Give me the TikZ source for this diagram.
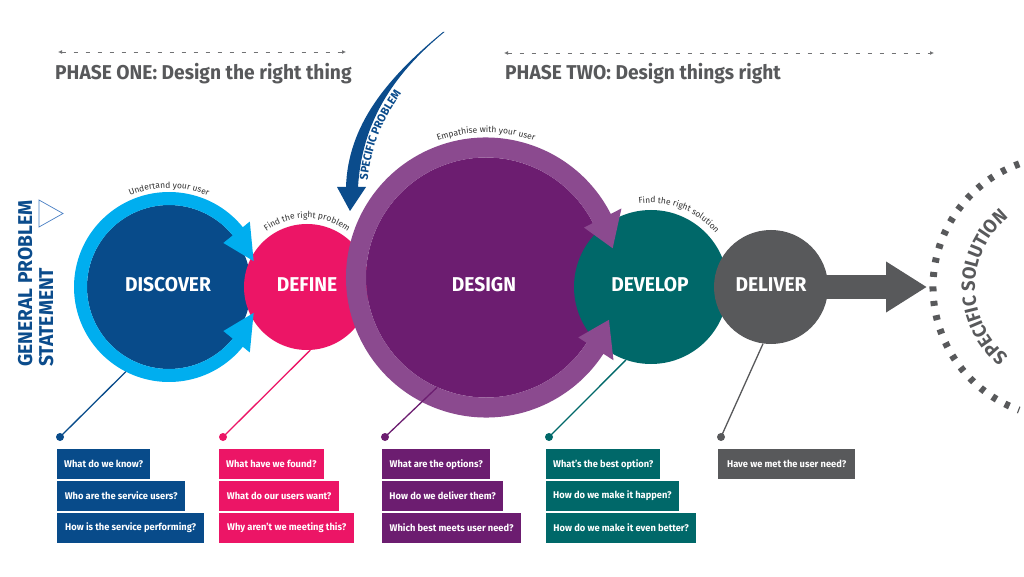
\documentclass[tikz,border=0pt]{standalone}
\usepackage{fontspec}
\setmainfont{Fira Sans}
\newfontfamily\dinfont{Fira Sans}[FakeStretch=0.96]
\usetikzlibrary{positioning,arrows.meta,decorations.text}

\definecolor{discblue}{RGB}{8,75,138}
\definecolor{ringblue}{RGB}{0,174,239}
\definecolor{defpink}{RGB}{236,21,102}
\definecolor{despurple}{RGB}{108,29,112}
\definecolor{ringpurple}{RGB}{139,74,143}
\definecolor{devteal}{RGB}{0,104,105}
\definecolor{delgray}{RGB}{88,89,91}
\definecolor{probblue}{RGB}{11,76,140}
\definecolor{triblue}{RGB}{70,125,195}

\tikzset{
	disc/.style={circle, inner sep=0pt, minimum size=#1},
	stage/.style={anchor=base, text=white, font=\dinfont\bfseries\fontsize{20}{20}\selectfont},
	phase/.style={anchor=base west, inner sep=0pt, text=delgray, font=\dinfont\bfseries\fontsize{20}{20}\selectfont},
	phaseline/.style={delgray!85, line width=0.8pt, dash pattern=on 4pt off 8pt, {Latex[length=4pt,width=4pt]}-{Latex[length=4pt,width=4pt]}},
	side/.style={anchor=base west, rotate=90, inner sep=0pt, text=probblue, font=\dinfont\bfseries\fontsize{20}{20}\selectfont},
	arclabel/.style={decorate, decoration={text along path, text align=center, text color=black!80, text={|\fontsize{8.5}{9}\selectfont|#1}}},
	dot/.style={circle, inner sep=0pt, minimum size=8pt, fill=#1},
	callout/.style={#1, line width=1.3pt},
	qbox/.style={anchor=north west, minimum height=30pt, inner xsep=7pt, inner ysep=0pt, text=white, font=\dinfont\bfseries\fontsize{9.7}{10}\selectfont},
	below row/.style={below=1.5pt of #1.south west, anchor=north west},
	bigarrow/.style={delgray, line width=24pt, -{Triangle[length=41pt,width=48pt]}},
}

\begin{document}
\begin{tikzpicture}[x=1pt, y=1pt]
	\useasboundingbox (0,0) rectangle (1024,576);
	\fill[white] (0,0) rectangle (1024,576);

	% phases
	\coordinate (p1a) at (58,524);
	\coordinate (p1b) at (346,524);
	\coordinate (p2a) at (504,523);
	\coordinate (p2b) at (934,523);
	\draw[phaseline] (p1a) -- (p1b);
	\draw[phaseline] (p2a) -- (p2b);
	\node[phase] (ph1) at (55,496) {PHASE ONE: Design the right thing};
	\node[phase] (ph2) at (505,496) {PHASE TWO: Design things right};

	% general problem statement
	\node[side] (gen1) at (32,209) {GENERAL PROBLEM};
	\node[side] (gen2) at (53,209) {STATEMENT};
	\draw[triblue, line width=0.7pt] (39,376) -- (63,362.5) -- (39,349) -- cycle;

	% the discs and the rings
	\node[disc=164, fill=discblue] (discover) at (169,289) {};
	\node[disc=126, fill=defpink] (define) at (307,289) {};
	\fill[ringblue] ([shift={(39:95)}]discover.center) arc[start angle=39, end angle=321, radius=95]
		-- ([shift={(321:104)}]discover.center) -- ([shift={(343:88.5)}]discover.center)
		-- ([shift={(321:70)}]discover.center) -- ([shift={(321:82)}]discover.center)
		arc[start angle=321, end angle=39, radius=82]
		-- ([shift={(39:70)}]discover.center) -- ([shift={(17:88.5)}]discover.center)
		-- ([shift={(39:104)}]discover.center) -- cycle;

	\node[disc=240, fill=despurple] (design) at (486,298.5) {};
	\node[disc=154, fill=devteal] (develop) at (651,289) {};
	\fill[ringpurple] ([shift={(27:140)}]design.center) arc[start angle=27, end angle=327, radius=140]
		-- ([shift={(327:152)}]design.center) -- ([shift={(341:130)}]design.center)
		-- ([shift={(327:110)}]design.center) -- ([shift={(327:120)}]design.center)
		arc[start angle=327, end angle=27, radius=120]
		-- ([shift={(27:110)}]design.center) -- ([shift={(13:130)}]design.center)
		-- ([shift={(27:152)}]design.center) -- cycle;
	\node[disc=114, fill=delgray] (deliver) at (771,289) {};

	\coordinate (soltip) at (927,289);
	\draw[bigarrow] (deliver.center) -- (soltip);

	\node[stage] (l1) at (168,284) {DISCOVER};
	\node[stage] (l2) at (307,284) {DEFINE};
	\node[stage] (l3) at (484,284) {DESIGN};
	\node[stage] (l4) at (650,284) {DEVELOP};
	\node[stage] (l5) at (771,284) {DELIVER};

	% specific problem
	\coordinate (probtop) at (443,544);
	\coordinate (probtip) at (350,365);
	\fill[probblue] (probtop) .. controls (387,498) and (348,451) .. (346,389) -- (337,389) -- (probtip)
		-- (366,389) -- (358,389) .. controls (362,452) and (391,500) .. ([xshift=1.5pt]probtop) -- cycle;
	\path[decorate, decoration={text along path, text align={left indent=8pt}, text color=probblue,
		text={|\dinfont\bfseries\fontsize{11.5}{12}\selectfont|SPECIFIC PROBLEM}}]
		(367,388) .. controls (371,448) and (399,490) .. (452,534);

	% specific solution
	\coordinate (solc) at (1064,289);
	\draw[delgray, line width=7pt, dash pattern=on 5pt off 9.5pt] ([shift={(110:131)}]solc) arc[start angle=110, end angle=250, radius=131];
	\path[decorate, decoration={text along path, text align=center, text color=delgray,
		text={|\dinfont\bfseries\fontsize{19}{20}\selectfont|SPECIFIC SOLUTION}}]
		([shift={(245:89)}]solc) arc[start angle=245, end angle=115, radius=89];

	% small labels round the discs
	\path[arclabel={Undertand your user}] ([shift={(130:99)}]discover.center) arc[start angle=130, end angle=50, radius=99];
	\path[arclabel={Find the right problem}] ([shift={(150:69)}]define.center) arc[start angle=150, end angle=30, radius=69];
	\path[arclabel={Empathise with your user}] ([shift={(120:145)}]design.center) arc[start angle=120, end angle=60, radius=145];
	\path[arclabel={Find the right solution}] ([shift={(109:84)}]develop.center) arc[start angle=109, end angle=29, radius=84];

	% callouts
	\node[dot=discblue] (d1) at (60,139) {};
	\node[dot=defpink] (d2) at (223,139) {};
	\node[dot=despurple] (d3) at (385,139) {};
	\node[dot=devteal] (d4) at (549,139) {};
	\node[dot=delgray] (d5) at (721,139) {};
	\draw[callout=discblue] (d1.center) -- ([shift={(243:95)}]discover.center);
	\draw[callout=defpink] (d2.center) -- (define.273);
	\draw[callout=despurple] (d3.center) -- (design.246);
	\draw[callout=devteal] (d4.center) -- (develop.251);
	\draw[callout=delgray] (d5.center) -- (deliver.262);

	% questions
	\node[qbox, fill=discblue, minimum width=93pt] (q11) at (57,127) {What do we know?};
	\node[qbox, fill=discblue, minimum width=128pt, below row=q11] (q12) {Who are the service users?};
	\node[qbox, fill=discblue, minimum width=147pt, below row=q12] (q13) {How is the service performing?};

	\node[qbox, fill=defpink, minimum width=104pt] (q21) at (219,127) {What have we found?};
	\node[qbox, fill=defpink, minimum width=120pt, below row=q21] (q22) {What do our users want?};
	\node[qbox, fill=defpink, minimum width=135pt, below row=q22] (q23) {Why aren’t we meeting this?};

	\node[qbox, fill=despurple, minimum width=108pt] (q31) at (382,127) {What are the options?};
	\node[qbox, fill=despurple, minimum width=121pt, below row=q31] (q32) {How do we deliver them?};
	\node[qbox, fill=despurple, minimum width=139pt, below row=q32] (q33) {Which best meets user need?};

	\node[qbox, fill=devteal, minimum width=111pt] (q41) at (546,127) {What’s the best option?};
	\node[qbox, fill=devteal, minimum width=132pt, below row=q41] (q42) {How do we make it happen?};
	\node[qbox, fill=devteal, minimum width=150pt, below row=q42] (q43) {How do we make it even better?};

	\node[qbox, fill=delgray, minimum width=137pt] (q51) at (718,127) {Have we met the user need?};
\end{tikzpicture}
\end{document}
